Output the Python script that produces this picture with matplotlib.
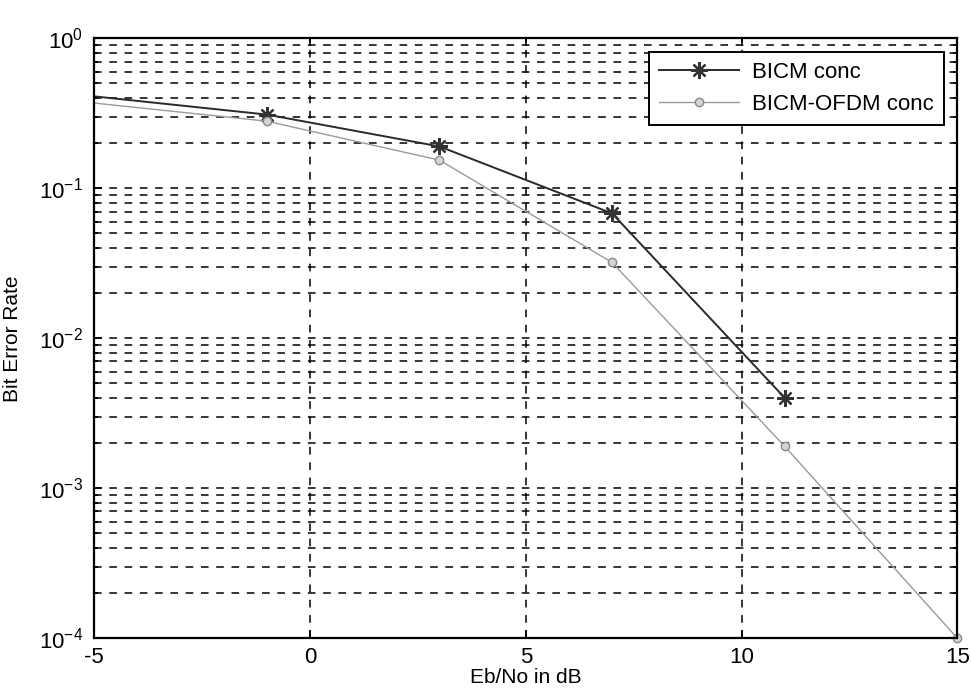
import matplotlib
matplotlib.use("Agg")
import matplotlib.pyplot as plt
from matplotlib.ticker import LogLocator, NullFormatter, FixedLocator

plt.rcParams['font.family'] = ['Liberation Sans', 'DejaVu Sans']
plt.rcParams['mathtext.default'] = 'regular'
plt.rcParams['axes.unicode_minus'] = False

# Data
ebno = [-5, -1, 3, 7, 11, 15]
ber_bicm = [0.41, 0.31, 0.19, 0.068, 0.004]
ber_bicm_ofdm = [0.37, 0.28, 0.154, 0.032, 0.0019, 1.0e-4]
series_labels = ["BICM conc", "BICM-OFDM conc"]
xticks = [-5, 0, 5, 10, 15]

fig = plt.figure(figsize=(9.71, 6.96), dpi=100)
ax = fig.add_axes([0.097, 0.083, 0.889, 0.862])

ax.plot(ebno[:len(ber_bicm)], ber_bicm, color='#2a2a2a', lw=1.4, marker=(8, 2, 0),
        ms=12, mew=1.6, mec='#333333', markevery=slice(1, None),
        label=series_labels[0])
ax.plot(ebno, ber_bicm_ofdm, color='#9a9a9a', lw=1.0, marker='o', ms=6,
        mec='#8a8a8a', mfc='#d5d5d5', mew=1.0, markevery=slice(1, None),
        label=series_labels[1], clip_on=False)

ax.set_yscale('log')
ax.set_xlim(-5, 15)
ax.set_ylim(1e-4, 1e0)
ax.xaxis.set_major_locator(FixedLocator(xticks))
ax.yaxis.set_major_locator(LogLocator(base=10, numticks=10))
ax.yaxis.set_minor_locator(LogLocator(base=10, subs=range(2, 10), numticks=100))
ax.yaxis.set_minor_formatter(NullFormatter())

gkw = dict(color='black', linestyle=(0, (5, 5)), linewidth=1.1)
ax.grid(True, which='both', axis='y', **gkw)
ax.grid(True, which='major', axis='x', **gkw)

ax.tick_params(which='both', direction='in', top=True, right=True,
               labelsize=16, width=1.2)
ax.tick_params(which='major', length=6)
ax.tick_params(which='minor', length=3)
ax.tick_params(axis='x', pad=6)
ax.tick_params(axis='y', pad=8)
for s in ax.spines.values():
    s.set_linewidth(1.6)

ax.set_xlabel("Eb/No in dB", fontsize=15, labelpad=0)
ax.set_ylabel("Bit Error Rate", fontsize=15, labelpad=12)

leg = ax.legend(loc='upper right', fontsize=16, frameon=True, fancybox=False,
                edgecolor='black', framealpha=1, handlelength=3.6,
                borderaxespad=0.6, borderpad=0.45, labelspacing=0.5,
                handletextpad=0.6)
leg.get_frame().set_linewidth(1.4)

fig.savefig("out.png", dpi=100)
